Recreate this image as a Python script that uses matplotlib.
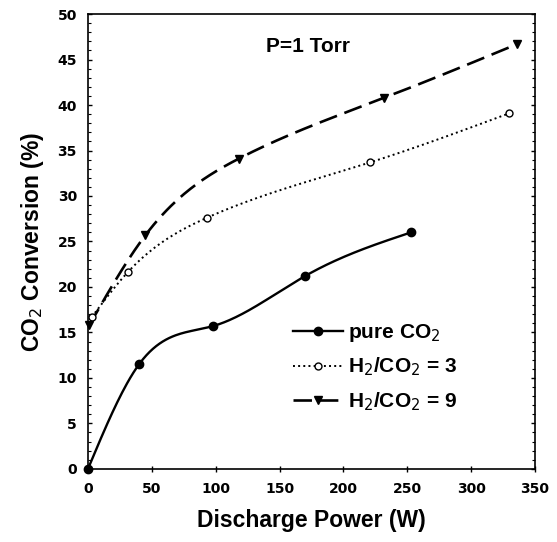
import numpy as np
import matplotlib
matplotlib.use("Agg")
import matplotlib.pyplot as plt
from matplotlib.ticker import MultipleLocator

plt.rcParams["font.family"] = ["Liberation Sans", "DejaVu Sans"]

# data
power_pure = [0, 40, 98, 170, 253]
conv_pure = [0.0, 11.5, 15.7, 21.2, 26.0]

power_h3 = [3, 31, 93, 221, 330]
conv_h3 = [16.7, 21.6, 27.6, 33.7, 39.1]

power_h9 = [1, 45, 118, 232, 336]
conv_h9 = [15.8, 25.7, 34.1, 40.8, 46.7]

labels = ["pure CO$_2$", "H$_2$/CO$_2$ = 3", "H$_2$/CO$_2$ = 9"]


def natural_spline(x, y, n=200):
    # natural cubic spline through the points, only used to draw the smooth line
    x = np.asarray(x, float)
    y = np.asarray(y, float)
    k = len(x)
    h = np.diff(x)
    A = np.zeros((k, k))
    b = np.zeros(k)
    A[0, 0] = 1
    A[-1, -1] = 1
    for i in range(1, k - 1):
        A[i, i - 1] = h[i - 1]
        A[i, i] = 2 * (h[i - 1] + h[i])
        A[i, i + 1] = h[i]
        b[i] = 6 * ((y[i + 1] - y[i]) / h[i] - (y[i] - y[i - 1]) / h[i - 1])
    M = np.linalg.solve(A, b)
    xs = np.linspace(x[0], x[-1], n)
    idx = np.clip(np.searchsorted(x, xs) - 1, 0, k - 2)
    x0, x1 = x[idx], x[idx + 1]
    hh = x1 - x0
    ys = (M[idx] * (x1 - xs) ** 3 / (6 * hh) + M[idx + 1] * (xs - x0) ** 3 / (6 * hh)
          + (y[idx] / hh - M[idx] * hh / 6) * (x1 - xs)
          + (y[idx + 1] / hh - M[idx + 1] * hh / 6) * (xs - x0))
    return xs, ys


fig = plt.figure(figsize=(5.57, 5.42), dpi=100)
ax = fig.add_axes([0.158, 0.135, 0.8025, 0.839])

series = [
    (power_pure, conv_pure, "-", "o", "black", 6.0, 1.7, None),
    (power_h3, conv_h3, ":", "o", "white", 5.0, 1.4, None),
    (power_h9, conv_h9, "--", "v", "black", 5.5, 1.9, (7, 3)),
]

handles = []
for (px, py, ls, mk, fc, ms, lw, dashes), lab in zip(series, labels):
    sx, sy = natural_spline(px, py)
    line, = ax.plot(sx, sy, ls, color="black", lw=lw)
    if dashes is not None:
        line.set_dashes(dashes)
    ax.plot(px, py, mk, ms=ms, mfc=fc, mec="black", mew=1.0, ls="none", clip_on=False, zorder=5)
    h, = ax.plot([], [], ls, color="black", lw=lw, marker=mk, ms=ms, mfc=fc, mec="black", mew=1.0)
    if dashes is not None:
        h.set_dashes(dashes)
    handles.append(h)

ax.set_xlim(0, 350)
ax.set_ylim(0, 50)
ax.xaxis.set_major_locator(MultipleLocator(50))
ax.yaxis.set_major_locator(MultipleLocator(5))
ax.yaxis.set_minor_locator(MultipleLocator(1))
ax.tick_params(axis="x", direction="inout", length=5, width=1.0, pad=7)
ax.tick_params(axis="y", which="major", direction="in", length=3, width=1.0, pad=8, right=True)
ax.tick_params(axis="y", which="minor", direction="in", length=2, width=0.8, right=True)
for lbl in ax.get_xticklabels() + ax.get_yticklabels():
    lbl.set_fontweight("bold")
    lbl.set_fontfamily("DejaVu Sans")
    lbl.set_fontsize(10)
for s in ax.spines.values():
    s.set_linewidth(1.2)

ax.set_xlabel("Discharge Power (W)", fontsize=16.5, fontweight="bold", labelpad=9)
ax.set_ylabel("CO$_2$ Conversion (%)", fontsize=16.5, fontweight="bold", labelpad=8)

ax.text(172, 46.4, "P=1 Torr", fontsize=15, fontweight="bold", ha="center", va="center")

leg = ax.legend(handles, labels, loc="upper left", bbox_to_anchor=(0.459, 0.322),
                frameon=False, fontsize=15, handlelength=2.4, handletextpad=0.25,
                labelspacing=0.55, borderpad=0, borderaxespad=0)
for t in leg.get_texts():
    t.set_fontweight("bold")

fig.savefig("out.png", dpi=100)
